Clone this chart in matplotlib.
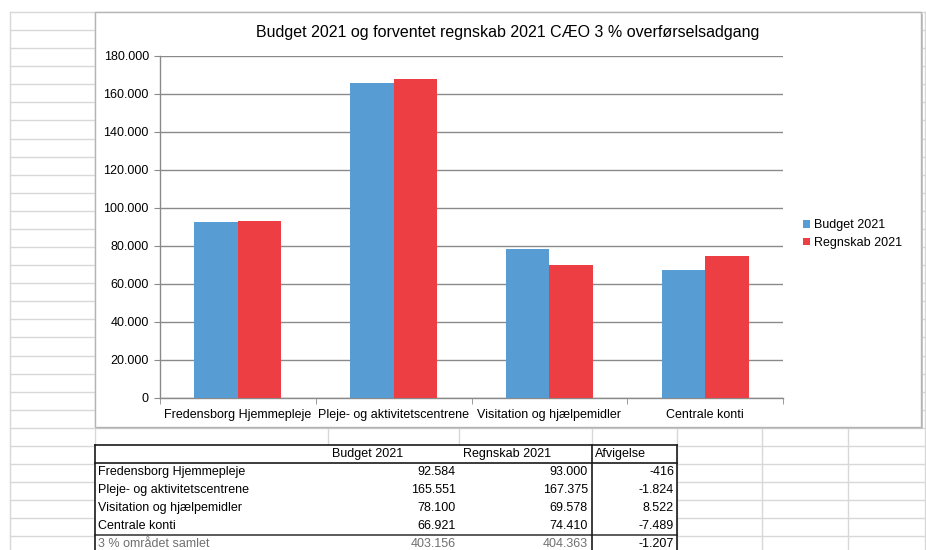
import matplotlib
matplotlib.use("Agg")
import matplotlib.pyplot as plt
from matplotlib.patches import Rectangle, Patch

plt.rcParams['font.family'] = ['Liberation Sans', 'DejaVu Sans']

# ---------------- data ----------------
title = "Budget 2021 og forventet regnskab 2021 CÆO 3 % overførselsadgang"
categories = ["Fredensborg Hjemmepleje", "Pleje- og aktivitetscentrene",
              "Visitation og hjælpemidler", "Centrale konti"]
series_names = ["Budget 2021", "Regnskab 2021"]
budget = [92584, 165551, 78100, 66921]
regnskab = [93000, 167375, 69578, 74410]
afvigelse = [-416, -1824, 8522, -7489]
total_label = "3 % området samlet"
total_budget = 403156
total_regnskab = 404363
total_afvigelse = -1207
table_header = ["Budget 2021", "Regnskab 2021", "Afvigelse"]
yticks = [0, 20000, 40000, 60000, 80000, 100000, 120000, 140000, 160000, 180000]

colors = ["#579DD3", "#ED3E44"]


def dk(v):
    return f"{v:,}".replace(",", ".")


W, H = 926, 550
fig = plt.figure(figsize=(W / 100, H / 100), dpi=100)
fig.patch.set_facecolor("white")

# background "spreadsheet" layer in pixel coordinates
bg = fig.add_axes([0, 0, 1, 1], zorder=0)
bg.set_xlim(0, W)
bg.set_ylim(H, 0)
bg.axis("off")

gridc = "#d8d8d8"
y = 12.0
while y < H:
    bg.plot([10, W], [y, y], color=gridc, lw=1.0)
    y += 18.08
for x in [10, 95, 328, 459, 592, 677, 762, 848, 925]:
    bg.plot([x, x], [12, H], color=gridc, lw=1.0)

# chart box
bg.add_patch(Rectangle((97, 14), 826, 415, facecolor="#c8c8c8", edgecolor="none", zorder=2))
bg.add_patch(Rectangle((95, 12), 826, 415, facecolor="white", edgecolor="#b4b4b4", lw=1.0, zorder=3))

# table
bg.add_patch(Rectangle((95, 445), 582, 110, facecolor="white", edgecolor="none", zorder=2))
lk = dict(color="#1a1a1a", lw=1.2, zorder=4)
bg.plot([95, 677], [445, 445], **lk)
bg.plot([95, 677], [463, 463], **lk)
bg.plot([95, 677], [535, 535], color="#404040", lw=1.2, zorder=4)
bg.plot([95, 95], [445, 550], **lk)
bg.plot([592, 592], [445, 550], **lk)
bg.plot([677, 677], [445, 550], **lk)

fs = 9
bg.text(332, 454, table_header[0], ha="left", va="center", fontsize=fs, zorder=5)
bg.text(463, 454, table_header[1], ha="left", va="center", fontsize=fs, zorder=5)
bg.text(595, 454, table_header[2], ha="left", va="center", fontsize=fs, zorder=5)
row_y = [472, 490, 508, 526]
for i, cat in enumerate(categories):
    yy = row_y[i]
    bg.text(98, yy, cat, ha="left", va="center", fontsize=fs, zorder=5)
    bg.text(456, yy, dk(budget[i]), ha="right", va="center", fontsize=fs, zorder=5)
    bg.text(588, yy, dk(regnskab[i]), ha="right", va="center", fontsize=fs, zorder=5)
    bg.text(674, yy, dk(afvigelse[i]), ha="right", va="center", fontsize=fs, zorder=5)
bg.text(98, 544, total_label, ha="left", va="center", fontsize=fs, color="#707070", zorder=5)
bg.text(456, 544, dk(total_budget), ha="right", va="center", fontsize=fs, color="#707070", zorder=5)
bg.text(588, 544, dk(total_regnskab), ha="right", va="center", fontsize=fs, color="#707070", zorder=5)
bg.text(674, 544, dk(total_afvigelse), ha="right", va="center", fontsize=fs, zorder=5)

# ---------------- chart ----------------
x0, x1, ytop, ybot = 160, 783, 55.5, 397.5
ax = fig.add_axes([x0 / W, 1 - ybot / H, (x1 - x0) / W, (ybot - ytop) / H], zorder=2)
ax.set_facecolor("none")

n = len(categories)
pos = list(range(n))
w = 0.28
ax.bar([p - w / 2 for p in pos], budget, width=w, color=colors[0], zorder=3)
ax.bar([p + w / 2 for p in pos], regnskab, width=w, color=colors[1], zorder=3)

ax.set_xlim(-0.5, n - 0.5)
ax.set_ylim(0, 180000)
ax.set_yticks(yticks)
ax.set_yticklabels([dk(v) for v in yticks], fontsize=fs)
ax.yaxis.grid(True, color="#8a8a8a", lw=1.0, zorder=0)
ax.set_axisbelow(True)

ax.set_xticks(pos)
ax.set_xticklabels(categories, fontsize=fs)
ax.tick_params(axis="x", length=0, pad=8)
ax.set_xticks([p - 0.5 for p in range(n + 1)], minor=True)
ax.tick_params(axis="x", which="minor", length=4, color="#8a8a8a", direction="out")
ax.tick_params(axis="y", length=4, color="#8a8a8a", pad=4)

for s in ["top", "right"]:
    ax.spines[s].set_visible(False)
for s in ["left", "bottom"]:
    ax.spines[s].set_color("#8a8a8a")
    ax.spines[s].set_linewidth(1.0)

fig.text(508 / W, 1 - 33 / H, title, ha="center", va="center", fontsize=11.5)

handles = [Patch(facecolor=c, edgecolor="none") for c in colors]
fig.legend(handles, series_names, loc="center left",
           bbox_to_anchor=(803 / W, 1 - 234 / H), frameon=False, fontsize=fs,
           handlelength=0.55, handleheight=0.55, handletextpad=0.3,
           labelspacing=0.45, borderpad=0, borderaxespad=0)

fig.savefig("out.png", dpi=100)
